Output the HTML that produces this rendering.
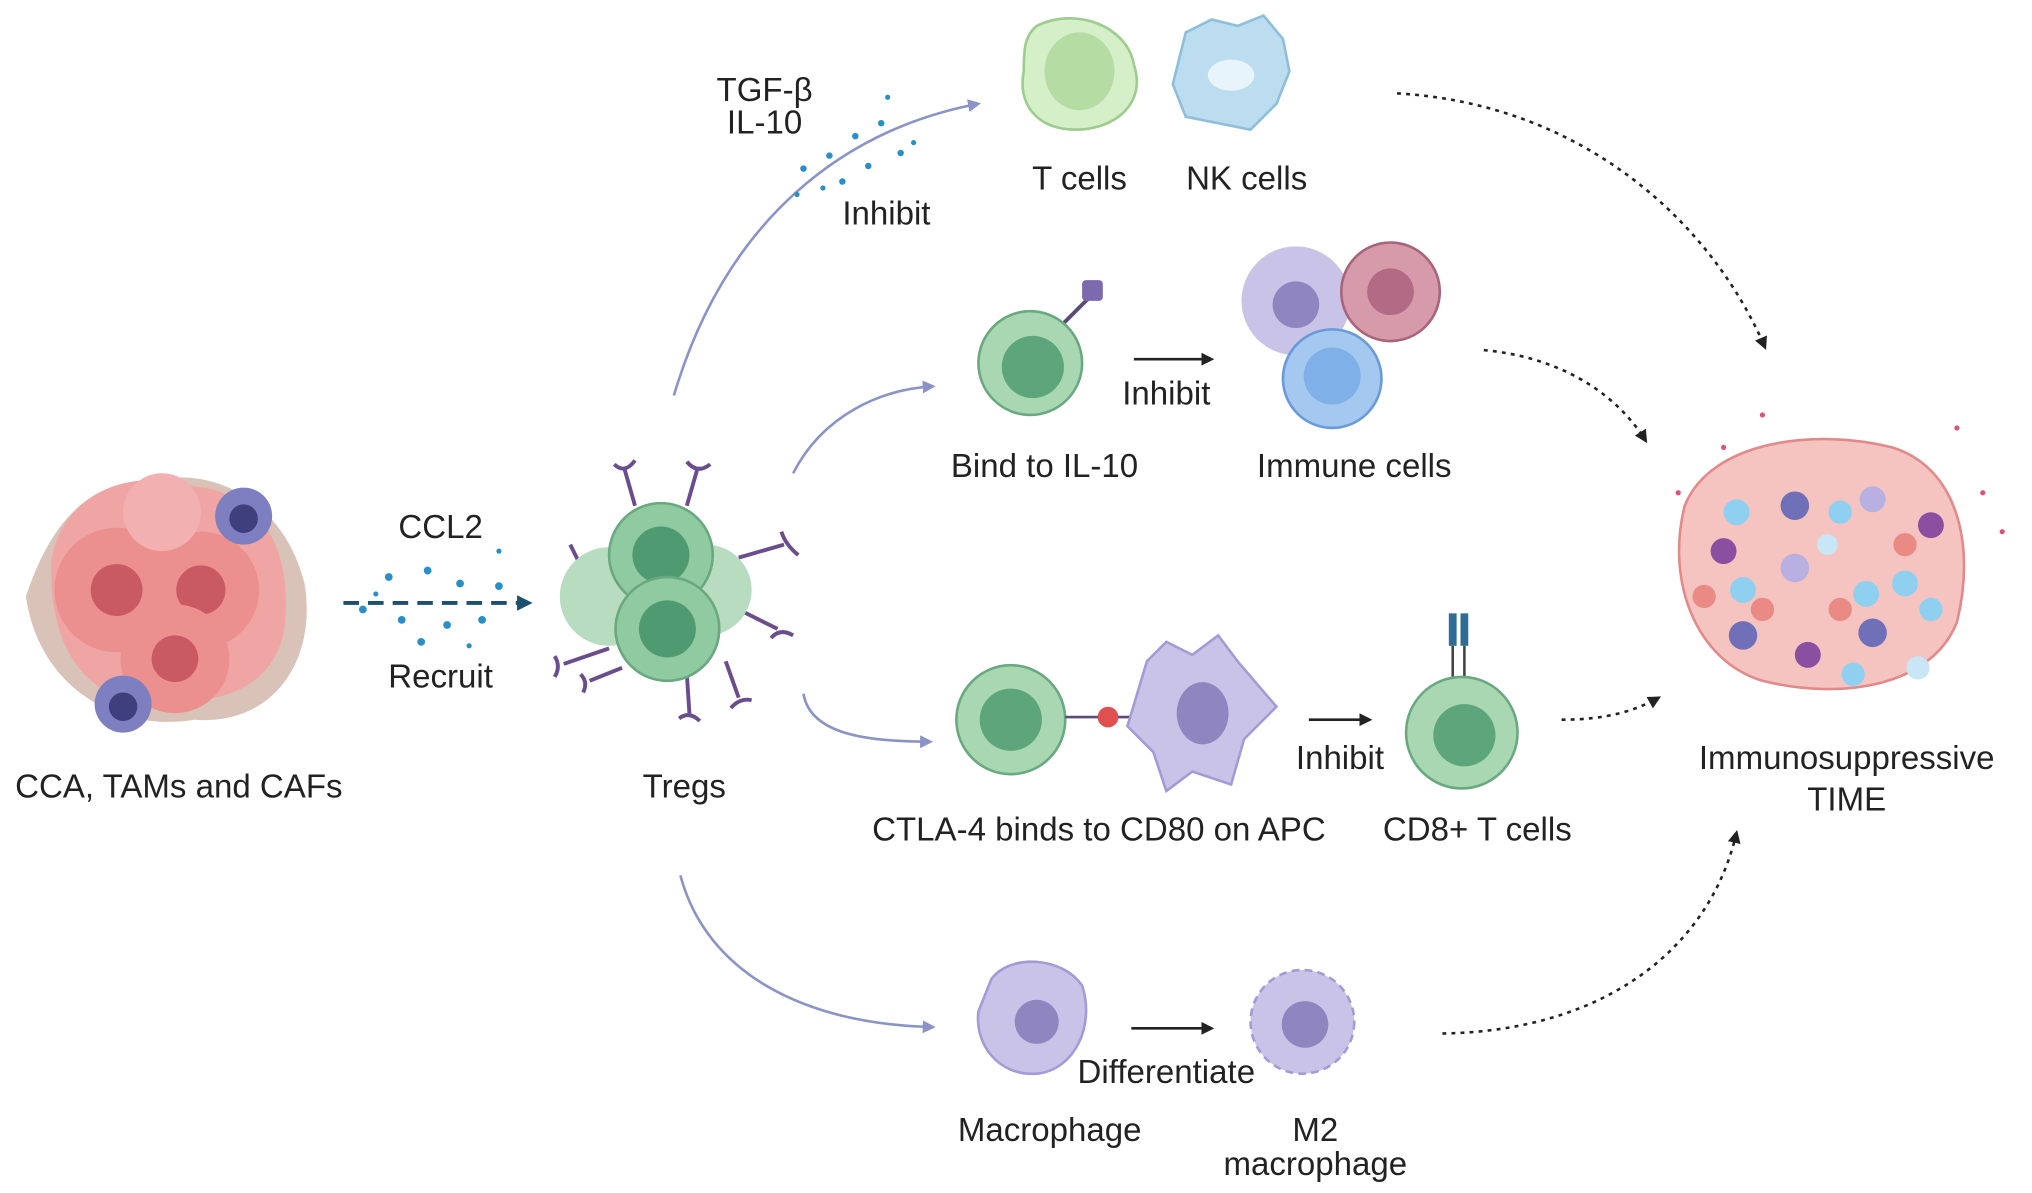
<!DOCTYPE html>
<html><head><meta charset="utf-8"><style>
html,body{margin:0;padding:0;background:#fff;}
svg{display:block;}
text{font-family:"Liberation Sans",sans-serif;fill:#222;font-size:25.5px;text-anchor:middle;}
</style></head><body>
<svg width="2032" height="1193" viewBox="0 0 1568 920" preserveAspectRatio="none" xmlns="http://www.w3.org/2000/svg">
<defs>
<marker id="ab" markerWidth="10" markerHeight="10" refX="8" refY="5" orient="auto" markerUnits="userSpaceOnUse"><path d="M0,0 L10,5 L0,10 Z" fill="#8a93c8"/></marker>
<marker id="ak" markerWidth="10" markerHeight="10" refX="8" refY="5" orient="auto" markerUnits="userSpaceOnUse"><path d="M0,0 L10,5 L0,10 Z" fill="#222"/></marker>
<marker id="at" markerWidth="12" markerHeight="12" refX="9" refY="6" orient="auto" markerUnits="userSpaceOnUse"><path d="M0,0 L12,6 L0,12 Z" fill="#1d4f6e"/></marker>
</defs>

<!-- Left tumor -->
<g>
<path d="M20,460 C40,400 70,370 120,370 C170,360 220,390 235,450 C245,510 210,560 150,555 C90,565 30,530 20,460Z" fill="#c9a99a" opacity=".7"/>
<path d="M40,430 C50,380 100,360 150,375 C200,380 225,420 220,480 C215,530 170,545 120,540 C70,545 35,500 40,430Z" fill="#f0a5a5"/>
<circle cx="90" cy="455" r="48" fill="#ec8f8f"/><circle cx="90" cy="455" r="20" fill="#c95a63"/>
<circle cx="155" cy="455" r="45" fill="#ec8f8f"/><circle cx="155" cy="455" r="19" fill="#c95a63"/>
<circle cx="135" cy="508" r="42" fill="#ec8f8f"/><circle cx="135" cy="508" r="18" fill="#c95a63"/>
<circle cx="125" cy="395" r="30" fill="#f2b0b0"/>
<circle cx="188" cy="398" r="22" fill="#7e7fc0"/><circle cx="188" cy="400" r="11" fill="#3f3f7e"/>
<circle cx="95" cy="543" r="22" fill="#7e7fc0"/><circle cx="95" cy="545" r="11" fill="#3f3f7e"/>
</g>
<text x="138" y="615">CCA, TAMs and CAFs</text>

<!-- CCL2 -->
<text x="340" y="415">CCL2</text>
<text x="340" y="530">Recruit</text>
<line x1="265" y1="465" x2="408" y2="465" stroke="#1d4f6e" stroke-width="3" stroke-dasharray="12,7" marker-end="url(#at)"/>
<g fill="#2a8fc8">
<circle cx="300" cy="445" r="3"/><circle cx="330" cy="440" r="3"/><circle cx="355" cy="450" r="3"/><circle cx="385" cy="452" r="3"/>
<circle cx="280" cy="470" r="3"/><circle cx="310" cy="478" r="3"/><circle cx="345" cy="482" r="3"/><circle cx="372" cy="478" r="3"/><circle cx="325" cy="495" r="3"/><circle cx="362" cy="498" r="2"/><circle cx="290" cy="458" r="2"/><circle cx="385" cy="425" r="2"/>
</g>

<!-- Tregs -->
<g stroke="#6a4d8c" stroke-width="3" fill="none">
<path d="M490,390 L482,362 M474,358 Q482,366 490,355"/><path d="M530,390 L538,362 M530,356 Q538,366 548,358"/><path d="M570,430 L605,420 M603,410 Q606,420 616,428"/><path d="M570,470 L600,485 M595,492 Q602,484 612,490"/>
<path d="M530,520 L532,550 M524,554 Q532,548 540,556"/><path d="M560,510 L570,538 M564,546 Q571,538 580,540"/><path d="M470,500 L435,512 M428,506 Q433,514 428,522"/><path d="M480,515 L455,525 M448,520 Q454,526 450,534"/><path d="M450,440 L440,420"/>
</g>
<circle cx="470" cy="460" r="38" fill="#b7dcbf"/>
<circle cx="545" cy="455" r="35" fill="#b7dcbf"/>
<circle cx="510" cy="428" r="40" fill="#8fcaa0" stroke="#6aa980" stroke-width="2"/><circle cx="510" cy="428" r="22" fill="#4f9a70"/>
<circle cx="515" cy="485" r="40" fill="#8fcaa0" stroke="#6aa980" stroke-width="2"/><circle cx="515" cy="485" r="22" fill="#4f9a70"/>
<text x="528" y="615">Tregs</text>

<!-- arcs -->
<g fill="none" stroke="#8a93c8" stroke-width="2">
<path d="M520,305 C560,170 650,100 755,80" marker-end="url(#ab)"/>
<path d="M612,365 C635,320 680,300 720,298" marker-end="url(#ab)"/>
<path d="M620,535 C625,565 665,572 718,572" marker-end="url(#ab)"/>
<path d="M525,675 C545,750 620,790 720,792" marker-end="url(#ab)"/>
</g>

<!-- TGF -->
<text x="590" y="78">TGF-β</text>
<text x="590" y="103">IL-10</text>
<text x="684" y="173">Inhibit</text>
<g fill="#2a8fc8">
<circle cx="620" cy="130" r="2.5"/><circle cx="640" cy="120" r="2.5"/><circle cx="660" cy="105" r="2.5"/><circle cx="680" cy="95" r="2.5"/><circle cx="650" cy="140" r="2.5"/><circle cx="670" cy="128" r="2.5"/><circle cx="695" cy="118" r="2.5"/><circle cx="615" cy="150" r="2"/><circle cx="685" cy="75" r="2"/><circle cx="705" cy="110" r="2"/><circle cx="635" cy="145" r="2"/>
</g>

<!-- T cells / NK -->
<path d="M800,20 C830,5 870,20 875,50 C885,80 860,100 830,100 C800,100 785,80 790,55 C790,40 790,28 800,20Z" fill="#d5efc8" stroke="#9ccc8e" stroke-width="2"/>
<ellipse cx="833" cy="55" rx="27" ry="30" fill="#b4dca3"/>
<path d="M915,25 L935,15 L955,20 L975,12 L990,30 L995,55 L985,80 L965,100 L940,95 L915,90 L905,65 Z" fill="#bcdcef" stroke="#8fbedb" stroke-width="2"/>
<ellipse cx="950" cy="58" rx="18" ry="12" fill="#e8f4fb"/>
<text x="833" y="146">T cells</text>
<text x="962" y="146">NK cells</text>

<!-- Bind IL-10 -->
<line x1="820" y1="250" x2="842" y2="228" stroke="#5a4a7a" stroke-width="3"/>
<rect x="835" y="216" width="16" height="16" fill="#7d6aae" rx="3"/>
<circle cx="795" cy="280" r="40" fill="#a9d7b2" stroke="#6aa980" stroke-width="2"/><circle cx="797" cy="283" r="24" fill="#5da67b"/>
<line x1="875" y1="277" x2="935" y2="277" stroke="#222" stroke-width="2" marker-end="url(#ak)"/>
<text x="900" y="312">Inhibit</text>
<text x="806" y="368">Bind to IL-10</text>
<circle cx="1000" cy="232" r="42" fill="#c9c3e8"/><circle cx="1000" cy="235" r="18" fill="#8f86c0"/>
<circle cx="1073" cy="225" r="38" fill="#d79aaa" stroke="#a8647a" stroke-width="2"/><circle cx="1073" cy="225" r="18" fill="#b36b85"/>
<circle cx="1028" cy="292" r="38" fill="#a4c8f0" stroke="#6a9ad8" stroke-width="2"/><circle cx="1028" cy="290" r="22" fill="#7fb0e8"/>
<text x="1045" y="368">Immune cells</text>

<!-- CTLA-4 -->
<circle cx="780" cy="555" r="42" fill="#a9d7b2" stroke="#6aa980" stroke-width="2"/><circle cx="780" cy="555" r="24" fill="#5da67b"/>
<line x1="822" y1="553" x2="890" y2="553" stroke="#5a4a7a" stroke-width="2"/>
<circle cx="855" cy="553" r="8" fill="#e05050"/>
<path d="M885,510 L900,495 L920,505 L940,490 L955,510 L985,545 L960,570 L950,605 L920,595 L900,610 L890,580 L870,560 Z" fill="#c9c3e8" stroke="#a59ad6" stroke-width="2"/>
<ellipse cx="928" cy="550" rx="20" ry="24" fill="#8f86c0"/>
<line x1="1010" y1="555" x2="1057" y2="555" stroke="#222" stroke-width="2" marker-end="url(#ak)"/>
<text x="1034" y="593">Inhibit</text>
<text x="848" y="648">CTLA-4 binds to CD80 on APC</text>
<rect x="1118" y="473" width="6" height="25" fill="#2f6c96"/><rect x="1127" y="473" width="6" height="25" fill="#2f6c96"/>
<line x1="1121" y1="498" x2="1121" y2="525" stroke="#444" stroke-width="2"/><line x1="1130" y1="498" x2="1130" y2="525" stroke="#444" stroke-width="2"/>
<circle cx="1128" cy="565" r="43" fill="#a9d7b2" stroke="#6aa980" stroke-width="2"/><circle cx="1130" cy="567" r="24" fill="#5da67b"/>
<text x="1140" y="648">CD8+ T cells</text>

<!-- Macrophage -->
<path d="M765,755 C780,735 820,738 835,760 C845,790 830,825 800,828 C770,830 752,805 755,780 Z" fill="#c9c3e8" stroke="#a59ad6" stroke-width="2"/>
<circle cx="800" cy="788" r="17" fill="#8f86c0"/>
<line x1="873" y1="793" x2="935" y2="793" stroke="#222" stroke-width="2" marker-end="url(#ak)"/>
<circle cx="1005" cy="788" r="40" fill="#c9c3e8" stroke="#a59ad6" stroke-width="2" stroke-dasharray="6,4"/>
<circle cx="1005" cy="788" r="34" fill="#c9c3e8"/>
<circle cx="1007" cy="790" r="18" fill="#8f86c0"/>
<text x="900" y="835">Differentiate</text>
<text x="810" y="880">Macrophage</text>
<text x="1015" y="880">M2</text>
<text x="1015" y="906">macrophage</text>

<!-- TIME -->
<path d="M1300,390 C1320,340 1400,330 1460,345 C1510,360 1525,420 1510,480 C1490,530 1420,540 1360,525 C1310,510 1285,450 1300,390Z" fill="#f5c4c0" stroke="#e28a8a" stroke-width="2"/>
<g>
<circle cx="1340" cy="395" r="10" fill="#8fd0f0"/><circle cx="1385" cy="390" r="11" fill="#7070b8"/><circle cx="1420" cy="395" r="9" fill="#8fd0f0"/><circle cx="1445" cy="385" r="10" fill="#b8b0e0"/>
<circle cx="1330" cy="425" r="10" fill="#8a4fa0"/><circle cx="1385" cy="438" r="11" fill="#b8b0e0"/><circle cx="1410" cy="420" r="8" fill="#c8e6f5"/><circle cx="1470" cy="450" r="10" fill="#8fd0f0"/>
<circle cx="1345" cy="455" r="10" fill="#8fd0f0"/><circle cx="1440" cy="458" r="10" fill="#8fd0f0"/><circle cx="1490" cy="470" r="9" fill="#8fd0f0"/><circle cx="1490" cy="405" r="10" fill="#8a4fa0"/>
<circle cx="1345" cy="490" r="11" fill="#7070b8"/><circle cx="1445" cy="488" r="11" fill="#7070b8"/><circle cx="1395" cy="505" r="10" fill="#8a4fa0"/><circle cx="1430" cy="520" r="9" fill="#8fd0f0"/><circle cx="1480" cy="515" r="9" fill="#c8e6f5"/>
<circle cx="1360" cy="470" r="9" fill="#ea8a84"/><circle cx="1420" cy="470" r="9" fill="#ea8a84"/><circle cx="1470" cy="420" r="9" fill="#ea8a84"/><circle cx="1315" cy="460" r="9" fill="#ea8a84"/>
</g>
<g fill="#e0507a"><circle cx="1295" cy="380" r="2"/><circle cx="1360" cy="320" r="2"/><circle cx="1510" cy="330" r="2"/><circle cx="1530" cy="380" r="2"/><circle cx="1545" cy="410" r="2"/><circle cx="1330" cy="345" r="2"/></g>
<text x="1425" y="593">Immunosuppressive</text>
<text x="1425" y="625">TIME</text>

<!-- dotted arrows -->
<g fill="none" stroke="#222" stroke-width="2" stroke-dasharray="3,4">
<path d="M1078,72 C1220,80 1320,170 1362,268" marker-end="url(#ak)"/>
<path d="M1145,270 C1200,275 1245,300 1270,340" marker-end="url(#ak)"/>
<path d="M1205,555 C1240,555 1262,548 1280,538" marker-end="url(#ak)"/>
<path d="M1113,797 C1240,795 1320,730 1340,642" marker-end="url(#ak)"/>
</g>
</svg>
</body></html>
